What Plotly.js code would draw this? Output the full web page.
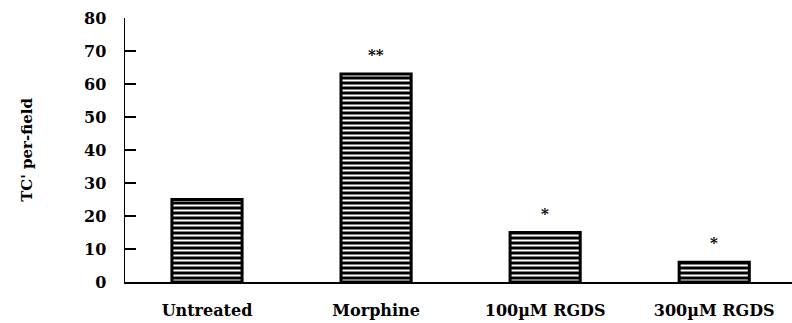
<!DOCTYPE html>
<html>
<head>
<meta charset="utf-8">
<script src="https://cdn.plot.ly/plotly-3.0.1.min.js"></script>
<style>html,body{margin:0;padding:0;background:#fff;}#chart{width:792px;height:323px;}</style>
</head>
<body>
<div id="chart"></div>
<script>
const categories = ["Untreated", "Morphine", "100\u00B5M RGDS", "300\u00B5M RGDS"];
const values = [25, 63, 15, 6];
const significance = ["", "**", "*", "*"];
const yTicks = [0, 10, 20, 30, 40, 50, 60, 70, 80];

const font = "DejaVu Serif, Liberation Serif, serif";

const bar = {
  type: "bar",
  x: categories,
  y: values,
  width: 0.415,
  marker: {
    color: "black",
    line: {color: "black", width: 3},
    pattern: {shape: "-", fgcolor: "white", bgcolor: "black", size: 5, solidity: 0.4, fillmode: "replace"}
  },
  hoverinfo: "none"
};

const annotations = categories.map((c, i) => ({
  x: c, y: values[i], text: significance[i],
  showarrow: false, yanchor: "bottom", yshift: 8,
  font: {family: font, size: 15, color: "black", weight: "bold"}
})).filter(a => a.text);

const layout = {
  width: 792, height: 323,
  margin: {l: 125, r: 0, t: 18, b: 41},
  paper_bgcolor: "white", plot_bgcolor: "white",
  showlegend: false,
  annotations: annotations,
  xaxis: {
    type: "category",
    range: [-0.485, 3.46],
    showline: true, linecolor: "black", linewidth: 2,
    ticks: "", showgrid: false, zeroline: false,
    ticklabelstandoff: 13,
    tickfont: {family: font, size: 16, color: "black", weight: "bold"}
  },
  yaxis: {
    range: [0, 80],
    tickvals: yTicks,
    ticktext: yTicks.map(String),
    showline: true, linecolor: "black", linewidth: 1.5,
    ticks: "inside", ticklen: 11, tickwidth: 1.5, tickcolor: "black",
    ticklabelstandoff: 14,
    showgrid: false, zeroline: false,
    tickfont: {family: font, size: 16, color: "black", weight: "bold"},
    title: {text: "TC' per-field", font: {family: font, size: 15, color: "black", weight: "bold"}, standoff: 48}
  }
};

Plotly.newPlot("chart", [bar], layout, {displayModeBar: false, staticPlot: true});
</script>
</body>
</html>
